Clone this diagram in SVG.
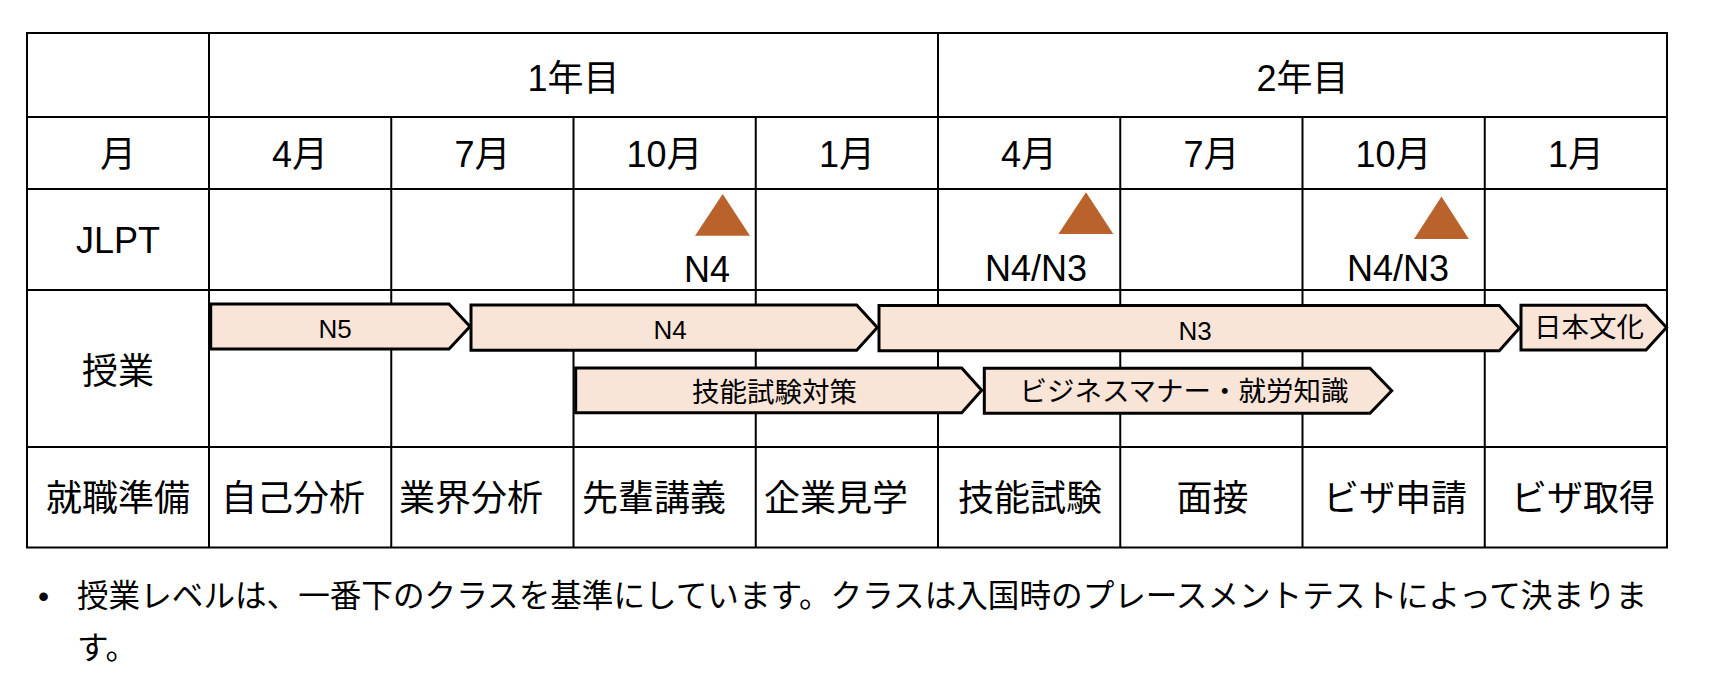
<svg xmlns="http://www.w3.org/2000/svg" width="1710" height="684" viewBox="0 0 1710 684">
<style>
  text { font-family: "Liberation Sans", "Noto Sans CJK JP", sans-serif; fill: #000; }
  .cell { font-size: 36px; }
  .mid { text-anchor: middle; }
  .grid { stroke: #000; stroke-width: 2; fill: none; }
  .bar { fill: #F9E5D8; stroke: #000; stroke-width: 3; stroke-linejoin: miter; }
  .barN { font-size: 26px; text-anchor: middle; }
  .barJ { font-size: 27.5px; text-anchor: middle; }
  .tri { fill: #BA622C; }
  .jl { font-size: 36px; text-anchor: middle; }
  .note { font-size: 31.6px; }
</style>
<rect width="1710" height="684" fill="#fff"/>

<g id="grid" class="grid">
  <rect x="27" y="33" width="1640" height="514.5"/>
  <line x1="27" y1="117" x2="1667" y2="117"/>
  <line x1="27" y1="189" x2="1667" y2="189"/>
  <line x1="27" y1="290" x2="1667" y2="290"/>
  <line x1="27" y1="447" x2="1667" y2="447"/>
  <line x1="209" y1="33" x2="209" y2="547.5"/>
  <line x1="938" y1="33" x2="938" y2="547.5"/>
  <line x1="391.25" y1="117" x2="391.25" y2="547.5"/>
  <line x1="573.5" y1="117" x2="573.5" y2="547.5"/>
  <line x1="755.75" y1="117" x2="755.75" y2="547.5"/>
  <line x1="1120.25" y1="117" x2="1120.25" y2="547.5"/>
  <line x1="1302.5" y1="117" x2="1302.5" y2="547.5"/>
  <line x1="1484.75" y1="117" x2="1484.75" y2="547.5"/>
</g>

<g id="year-header">
  <text class="cell mid" x="573.5" y="91">1年目</text>
  <text class="cell mid" x="1302.5" y="91">2年目</text>
</g>

<g id="month-row">
  <text class="cell mid" x="118" y="167">月</text>
  <text class="cell mid" x="300" y="167">4月</text>
  <text class="cell mid" x="482.4" y="167">7月</text>
  <text class="cell mid" x="664.6" y="167">10月</text>
  <text class="cell mid" x="846.9" y="167">1月</text>
  <text class="cell mid" x="1029.1" y="167">4月</text>
  <text class="cell mid" x="1211.4" y="167">7月</text>
  <text class="cell mid" x="1393.6" y="167">10月</text>
  <text class="cell mid" x="1575.9" y="167">1月</text>
</g>

<g id="jlpt-row">
  <text class="cell mid" x="118" y="253">JLPT</text>
  <g id="jlpt-1">
    <polygon class="tri" points="722.7,194 750,235.7 695,235.7"/>
    <text class="jl" x="707" y="282">N4</text>
  </g>
  <g id="jlpt-2">
    <polygon class="tri" points="1086,192.3 1113.3,234 1058.4,234"/>
    <text class="jl" x="1036" y="281">N4/N3</text>
  </g>
  <g id="jlpt-3">
    <polygon class="tri" points="1441.5,196.5 1468.8,239 1414,239"/>
    <text class="jl" x="1398" y="281">N4/N3</text>
  </g>
</g>

<g id="class-row">
  <text class="cell mid" x="118" y="383.5">授業</text>
  <g id="bar-n5">
    <polygon class="bar" points="210.7,304 449,304 470,326.5 449,349 210.7,349"/>
    <text class="barN" x="335" y="337.5">N5</text>
  </g>
  <g id="bar-n4">
    <polygon class="bar" points="471,305 856.7,305 877.3,327.5 856.7,350.3 471,350.3"/>
    <text class="barN" x="670" y="339">N4</text>
  </g>
  <g id="bar-n3">
    <polygon class="bar" points="879,305.5 1499.3,305.5 1519.3,328.2 1499.3,350.8 879,350.8"/>
    <text class="barN" x="1195" y="340">N3</text>
  </g>
  <g id="bar-culture">
    <polygon class="bar" points="1521,305.3 1646,305.3 1666.5,327.6 1646,350 1521,350"/>
    <text class="barJ" x="1589" y="337">日本文化</text>
  </g>
  <g id="bar-skill">
    <polygon class="bar" points="575.7,368 961.7,368 981.7,390.3 961.7,412.7 575.7,412.7"/>
    <text class="barJ" x="774.5" y="402">技能試験対策</text>
  </g>
  <g id="bar-business">
    <polygon class="bar" points="984.3,368.3 1370,368.3 1391.7,390.8 1370,413.3 984.3,413.3"/>
    <text class="barJ" x="1184" y="401">ビジネスマナー・就労知識</text>
  </g>
</g>

<g id="job-row">
  <text class="cell mid" x="118" y="510.5">就職準備</text>
  <text class="cell" x="221" y="510.5">自己分析</text>
  <text class="cell" x="399" y="510.5">業界分析</text>
  <text class="cell" x="582" y="510.5">先輩講義</text>
  <text class="cell" x="764" y="510.5">企業見学</text>
  <text class="cell mid" x="1030" y="510.5">技能試験</text>
  <text class="cell mid" x="1212.5" y="510.5">面接</text>
  <text class="cell mid" x="1395" y="510.5">ビザ申請</text>
  <text class="cell mid" x="1583" y="510.5">ビザ取得</text>
</g>

<g id="note">
  <text class="note" x="38" y="607">•</text>
  <text class="note" x="77" y="607">授業レベルは、一番下のクラスを基準にしています。クラスは入国時のプレースメントテストによって決まりま</text>
  <text class="note" x="77" y="659">す。</text>
</g>
</svg>
